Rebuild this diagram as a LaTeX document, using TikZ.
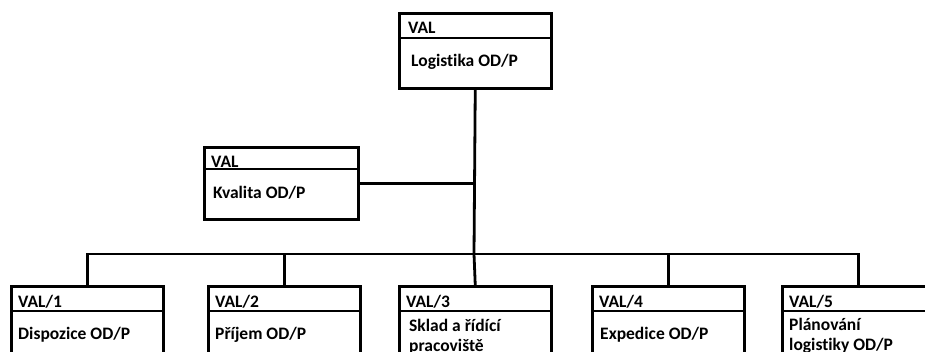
\documentclass[tikz,border=0pt]{standalone}
\usepackage{fontspec}
\setmainfont[Ligatures=NoCommon]{Carlito}
\begin{document}
\begin{tikzpicture}[x=1pt,y=-1pt,
  unit/.style={draw=black, line width=2.5pt, fill=white, rectangle, inner sep=0pt,
    minimum width=152pt, minimum height=75pt, anchor=north west},
  divider/.style={draw=black, line width=1.2pt},
  link/.style={draw=black, line width=2.8pt},
  label/.style={font=\bfseries\fontsize{17.5}{20}\selectfont, anchor=base west, inner sep=0pt}]
\useasboundingbox (0,0) rectangle (925,351);
\clip (0,0) rectangle (925,351);

% junction of the trunk line and the lower bus
\coordinate (jn) at (474,254);

% boxes
\node[unit] (top) at (398,12) {};
\node[unit, minimum height=72pt, minimum width=154pt] (kval) at (203,146) {};
\node[unit] (b1) at (10,285) {};
\node[unit] (b2) at (207,285) {};
\node[unit] (b3) at (398,285) {};
\node[unit] (b4) at (591,285) {};
\node[unit] (b5) at (781,285) {};

% connectors
\draw[link] (top.south) -- (jn);
\draw[link] (kval.east) -- (kval.east -| jn);
\draw[link] (b1.north) |- (jn) -| (b5.north);
\draw[link] (jn) -- (b3.north);
\draw[link] (b2.north) -- (b2.north |- jn);
\draw[link] (b4.north) -- (b4.north |- jn);

% header dividers
\draw[divider] ([yshift=-26pt]top.north west) -- ([yshift=-26pt]top.north east);
\draw[divider] ([yshift=-23pt]kval.north west) -- ([yshift=-23pt]kval.north east);
\foreach \b in {b1,b2,b3,b4,b5}
  \draw[divider] ([yshift=-26pt]\b.north west) -- ([yshift=-26pt]\b.north east);

% texts
\node[label] (topH) at ([xshift=10pt,yshift=-21pt]top.north west) {VAL};
\node[label] (topT) at ([xshift=13pt,yshift=-54pt]top.north west) {Logistika OD/P};
\node[label] (kvalH) at ([xshift=8pt,yshift=-21pt]kval.north west) {VAL};
\node[label] (kvalT) at ([xshift=10pt,yshift=-52pt]kval.north west) {Kvalita OD/P};
\node[label] (b1H) at ([xshift=8pt,yshift=-22pt]b1.north west) {VAL/1};
\node[label] (b1T) at ([xshift=8pt,yshift=-54pt]b1.north west) {Dispozice OD/P};
\node[label] (b2H) at ([xshift=8pt,yshift=-22pt]b2.north west) {VAL/2};
\node[label] (b2T) at ([xshift=8pt,yshift=-54pt]b2.north west) {Příjem OD/P};
\node[label] (b3H) at ([xshift=8pt,yshift=-22pt]b3.north west) {VAL/3};
\node[label] (b3T) at ([xshift=11pt,yshift=-46pt]b3.north west) {Sklad a řídící};
\node[label] (b3U) at ([xshift=11pt,yshift=-66pt]b3.north west) {pracoviště};
\node[label] (b4H) at ([xshift=8pt,yshift=-22pt]b4.north west) {VAL/4};
\node[label] (b4T) at ([xshift=9pt,yshift=-54pt]b4.north west) {Expedice OD/P};
\node[label] (b5H) at ([xshift=8pt,yshift=-22pt]b5.north west) {VAL/5};
\node[label] (b5T) at ([xshift=8pt,yshift=-45pt]b5.north west) {Plánování};
\node[label] (b5U) at ([xshift=8pt,yshift=-65pt]b5.north west) {logistiky OD/P};
\end{tikzpicture}
\end{document}
